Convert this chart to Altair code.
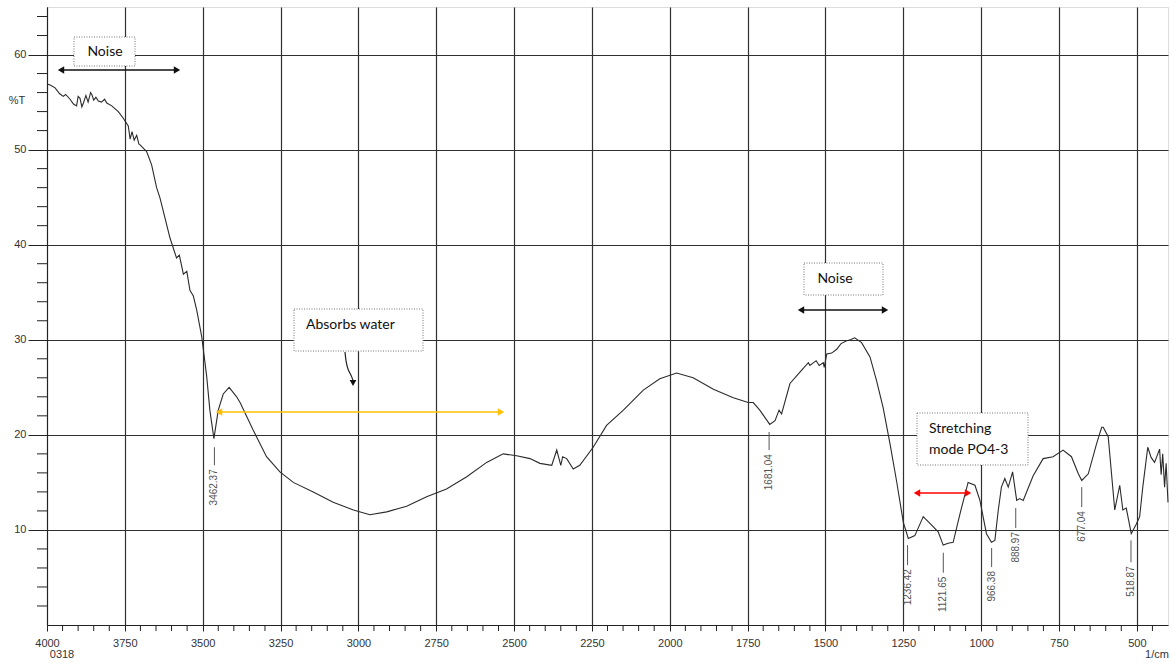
import altair as alt
import pandas as pd

# ---- spectrum (wavenumber 1/cm, %T) ----
wavenumber = [4000, 3990, 3974, 3960, 3948, 3940, 3926, 3915, 3905, 3900, 3894, 3888, 3883, 3875, 3868,
              3860, 3856, 3850, 3843, 3835, 3825, 3815, 3808, 3792, 3771, 3755, 3739, 3733, 3727, 3720,
              3717, 3712, 3705, 3701, 3680, 3664, 3648, 3637, 3621, 3605, 3584, 3575, 3562, 3551, 3541,
              3530, 3519, 3503, 3487, 3477,
              3464, 3450, 3434, 3415, 3391, 3380, 3338, 3295, 3252, 3209, 3145, 3081, 3016, 2963, 2909,
              2845, 2781, 2717, 2652, 2588, 2535, 2492, 2449, 2417, 2379, 2363, 2350, 2344, 2331, 2310,
              2289, 2246, 2203, 2149, 2085, 2032, 1978, 1925, 1860, 1796, 1748, 1732, 1711, 1679, 1662,
              1649, 1641, 1614, 1582, 1555, 1550, 1530, 1520, 1507, 1504, 1496, 1480, 1464, 1450, 1432,
              1420, 1406, 1384, 1357, 1336,
              1315, 1293, 1272, 1250, 1234, 1213, 1186, 1159, 1138, 1122, 1106, 1090, 1068, 1042, 1020,
              1004, 983, 967, 956, 945, 935, 924, 913, 899, 886, 876, 865, 833, 801, 769,
              737, 710, 688, 677, 656, 629, 613, 608, 592, 571, 555, 545, 534, 518, 502,
              491, 481, 465, 454, 443, 427, 422, 417, 411, 406, 400]
transmittance = [56.9, 56.8, 56.5, 55.9, 55.6, 55.8, 55.3, 54.8, 54.6, 55.6, 55.4, 54.5, 54.9, 55.7, 55.0,
                 56.0, 55.8, 55.2, 55.5, 55.1, 55.0, 55.3, 54.9, 54.6, 54.0, 53.3, 52.5, 51.1, 51.9, 51.0,
                 51.2, 51.5, 50.6, 50.5, 49.8, 48.4, 46.0, 44.9, 42.8, 40.7, 38.6, 38.9, 36.9, 37.2, 35.2,
                 34.6, 33.1, 30.3, 26.1, 22.6,
                 19.6, 22.6, 24.3, 25.0, 24.0, 23.4, 20.5, 17.7, 16.1, 15.0, 14.0, 12.9, 12.1, 11.6, 11.9,
                 12.5, 13.5, 14.3, 15.6, 17.1, 18.0, 17.8, 17.5, 17.0, 16.8, 18.4, 16.8, 17.7, 17.5, 16.4,
                 16.8, 18.7, 21.0, 22.6, 24.7, 25.9, 26.5, 26.0, 24.8, 23.9, 23.4, 23.4, 22.6, 21.1, 21.5,
                 22.6, 22.2, 25.4, 26.6, 27.6, 27.3, 27.8, 27.3, 27.6, 27.1, 28.5, 28.6, 29.0, 29.6, 29.9,
                 30.0, 30.2, 29.7, 28.2, 25.7,
                 22.9, 19.1, 15.2, 10.8, 9.1, 9.4, 11.4, 10.5, 9.8, 8.4, 8.6, 8.7, 11.7, 15.0, 14.7,
                 13.1, 9.6, 8.7, 8.9, 12.1, 14.5, 15.4, 14.5, 16.1, 13.1, 13.3, 13.1, 15.7, 17.5, 17.7,
                 18.4, 17.7, 15.9, 15.2, 15.9, 19.1, 20.8, 20.8, 19.8, 12.1, 14.7, 12.1, 12.3, 9.6, 10.6,
                 11.4, 14.5, 18.7, 17.6, 17.1, 18.5, 15.8, 18.0, 14.5, 17.0, 12.9]

# ---- peak labels ----
peak_text = ["3462.37", "1681.04", "1236.42", "1121.65", "966.38", "888.97", "677.04", "518.87"]
peak_x = [3462.37, 1681.04, 1236.42, 1121.65, 966.38, 888.97, 677.04, 518.87]
peak_tick_top = [18.7, 20.3, 8.4, 7.6, 8.1, 12.3, 14.5, 8.9]
peak_tick_bottom = [16.8, 18.4, 6.3, 5.5, 6.1, 10.2, 12.4, 6.6]

# ---- axis ticks ----
x_major = [4000, 3750, 3500, 3250, 3000, 2750, 2500, 2250, 2000, 1750, 1500, 1250, 1000, 750, 500]
x_minor = [v for v in range(450, 4000, 50) if v % 250 != 0]
y_major = [10, 20, 30, 40, 50, 60]
y_minor = [v for v in range(2, 65, 2) if v % 10 != 0]

W, H = 1121, 618
FONT = "Liberation Sans"
NOTE_FONT = "Lato"

xs = alt.Scale(domain=[4000, 400], nice=False, zero=False)
ys = alt.Scale(domain=[0, 65], nice=False, zero=False)

spec = pd.DataFrame({"wn": wavenumber, "t": transmittance})
peaks = pd.DataFrame({"label": peak_text, "wn": peak_x, "y1": peak_tick_top, "y2": peak_tick_bottom})

line = alt.Chart(spec).mark_line(color="#2b2b2b", strokeWidth=1.1).encode(
    x=alt.X("wn:Q", scale=xs, title=None,
            axis=alt.Axis(values=x_major, format="d", grid=True, gridColor="#303030", gridWidth=1.2,
                          tickSize=6, tickColor="#222", domainColor="#222", labelFont=FONT,
                          labelFontSize=11, labelColor="#333", labelPadding=6, labelOverlap=False,
                          labelFlush=False)),
    y=alt.Y("t:Q", scale=ys, title=None,
            axis=alt.Axis(values=y_major, grid=True, gridColor="#303030", gridWidth=1.2,
                          tickSize=19, tickColor="#222", domainColor="#222", labelFont=FONT,
                          labelFontSize=11, labelColor="#333", labelPadding=2)),
)

yminor = alt.Chart(pd.DataFrame({"v": y_minor})).mark_rule(color="#222").encode(
    y=alt.Y("v:Q", scale=ys), x=alt.value(-10), x2=alt.value(0))
xminor = alt.Chart(pd.DataFrame({"v": x_minor})).mark_rule(color="#222").encode(
    x=alt.X("v:Q", scale=xs), y=alt.value(H), y2=alt.value(H + 6))

peak_rules = alt.Chart(peaks).mark_rule(color="#555", strokeWidth=1).encode(
    x=alt.X("wn:Q", scale=xs), y=alt.Y("y1:Q", scale=ys), y2="y2:Q")
peak_labels = alt.Chart(peaks).mark_text(angle=270, font=FONT, fontSize=10, color="#555",
                                         align="right", baseline="middle", dx=-4).encode(
    x=alt.X("wn:Q", scale=xs), y=alt.Y("y2:Q", scale=ys), text="label:N")

# ---- annotations ----
def box(x1, y1, x2, y2):
    return alt.Chart(pd.DataFrame({"k": [0]})).mark_rect(
        fill="white", stroke="#777", strokeDash=[1, 1.5], strokeWidth=1).encode(
        x=alt.value(x1), x2=alt.value(x2), y=alt.value(y1), y2=alt.value(y2))

def txt(s, x, y, align="center", size=14):
    return alt.Chart(pd.DataFrame({"k": [0]})).mark_text(
        text=s, font=NOTE_FONT, fontSize=size, color="#111", align=align, baseline="middle").encode(
        x=alt.value(x), y=alt.value(y))

def darrow(x1, x2, y, color, head=55):
    r = alt.Chart(pd.DataFrame({"k": [0]})).mark_rule(color=color, strokeWidth=1.6).encode(
        x=alt.value(x1 + 4), x2=alt.value(x2 - 4), y=alt.value(y))
    l = alt.Chart(pd.DataFrame({"k": [0]})).mark_point(
        shape="triangle-left", filled=True, color=color, size=head, opacity=1).encode(
        x=alt.value(x1 + 4), y=alt.value(y))
    rr = alt.Chart(pd.DataFrame({"k": [0]})).mark_point(
        shape="triangle-right", filled=True, color=color, size=head, opacity=1).encode(
        x=alt.value(x2 - 4), y=alt.value(y))
    return r + l + rr

curve = pd.DataFrame({"px": [298, 299, 301, 304, 306], "py": [345, 355, 363, 368, 373], "o": [0, 1, 2, 3, 4]})
curved = alt.Chart(curve).mark_line(color="#222", strokeWidth=1.2, interpolate="basis").encode(
    x=alt.X("px:Q", scale=None), y=alt.Y("py:Q", scale=None), order="o:Q")
curved_head = alt.Chart(pd.DataFrame({"k": [0]})).mark_point(
    shape="triangle-down", filled=True, color="#111", size=45, opacity=1).encode(
    x=alt.value(306), y=alt.value(376))

extra_text = (
    alt.Chart(pd.DataFrame({"k": [0]})).mark_text(text="%T", font=FONT, fontSize=11, color="#333",
                                                  align="center", baseline="middle").encode(
        x=alt.value(-30), y=alt.value(94))
    + alt.Chart(pd.DataFrame({"k": [0]})).mark_text(text="0318", font=FONT, fontSize=11, color="#333",
                                                    align="center", baseline="middle").encode(
        x=alt.value(15), y=alt.value(648))
    + alt.Chart(pd.DataFrame({"k": [0]})).mark_text(text="1/cm", font=FONT, fontSize=11, color="#333",
                                                    align="center", baseline="middle").encode(
        x=alt.value(1110), y=alt.value(648))
)

notes = (
    box(27, 30, 88, 59) + txt("Noise", 58, 45)
    + darrow(10, 134, 63, "#111")
    + box(247, 302, 376, 344) + txt("Absorbs water", 259, 318, align="left")
    + curved + curved_head
    + darrow(168, 458, 405, "#FFC000")
    + box(757, 256, 836, 288) + txt("Noise", 788, 272)
    + darrow(750, 842, 303, "#111")
    + box(870, 406, 981, 458) + txt("Stretching", 882, 422, align="left")
    + txt("mode PO4-3", 882, 443, align="left")
    + darrow(866, 925, 486, "#FF0000")
)

chart = alt.layer(line, yminor, xminor, peak_rules, peak_labels, notes, extra_text).properties(
    width=W, height=H,
    autosize=alt.AutoSizeParams(type="none"),
    padding={"left": 47, "top": 7, "right": 2, "bottom": 38},
).configure_view(stroke="#222", strokeWidth=1.2).configure(background="white")

chart.save("out.html", embed_options={"renderer": "svg", "actions": False})
